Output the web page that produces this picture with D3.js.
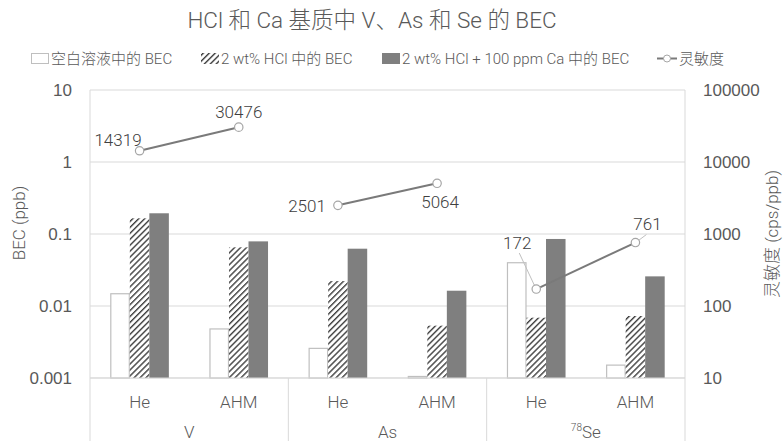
<!DOCTYPE html>
<html><head><meta charset="utf-8">
<script src="https://cdn.jsdelivr.net/npm/d3@7"></script>
<style>
body{margin:0;background:#fff;}
svg{display:block;font-family:Roboto,"Noto Sans CJK SC",sans-serif;font-weight:300;}
</style></head>
<body><svg id="c" width="783" height="441"></svg>
<script>
// ---- data ----
const groups = ["V", "As", "Se"];
const subs = ["He", "AHM"];
const seriesNames = ["空白溶液中的 BEC", "2 wt% HCl 中的 BEC", "2 wt% HCl + 100 ppm Ca 中的 BEC", "灵敏度"];
const blankBEC = [0.0148, 0.0048, 0.00258, 0.00105, 0.0399, 0.00151];
const hclBEC   = [0.165, 0.0653, 0.0222, 0.00533, 0.00688, 0.00726];
const caBEC    = [0.194, 0.079, 0.0625, 0.0163, 0.0853, 0.0258];
const sensitivity = [14319, 30476, 2501, 5064, 172, 761];
const leftTicks = [0.001, 0.01, 0.1, 1, 10];
const leftTickLabels = ["0.001", "0.01", "0.1", "1", "10"];
const rightTicks = [10, 100, 1000, 10000, 100000];
const rightTickLabels = ["10", "100", "1000", "10000", "100000"];

// label placement (style, not data)
const labelPos = [
  {a:"end", dx:2, dy:-11},
  {a:"middle", dx:0, dy:-15},
  {a:"end", dx:-12, dy:1},
  {a:"middle", dx:3, dy:19},
  {a:"middle", dx:-19, dy:-46, lead:true},
  {a:"middle", dx:12, dy:-18, lead:true}
];

const svg = d3.select("#c");
const L = 90, R = 685, T = 90, B = 378;
const txt = "#595959";
const grid = "#d9d9d9";

const x0 = d3.scaleBand().domain(groups).range([L, R]);
const x1 = d3.scaleBand().domain(subs).range([0, x0.bandwidth()]);
const xb = d3.scaleBand().domain([0,1,2]).range([0, x1.bandwidth()]).paddingInner(0).paddingOuter(1.04);
const y = d3.scaleLog().domain([0.001, 10]).range([B, T]);
const yR = d3.scaleLog().domain([10, 100000]).range([B, T]);

// pattern
const defs = svg.append("defs");
const pat = defs.append("pattern").attr("id","hatch").attr("patternUnits","userSpaceOnUse")
  .attr("width",4.2).attr("height",4.2).attr("patternTransform","rotate(45)");
pat.append("rect").attr("width",4.2).attr("height",4.2).attr("fill","#fff");
pat.append("rect").attr("x",0).attr("width",1.4).attr("height",4.2).attr("fill","#404040");

// title
svg.append("text").attr("x",372).attr("y",28).attr("text-anchor","middle")
  .attr("font-size",22.5).attr("fill",txt).text("HCl 和 Ca 基质中 V、As 和 Se 的 BEC");

// gridlines
svg.append("g").selectAll("line").data(leftTicks).join("line")
  .attr("x1",L).attr("x2",R).attr("y1",d=>y(d)).attr("y2",d=>y(d))
  .attr("stroke",grid).attr("stroke-width",1);

// left/right axis lines
svg.append("line").attr("x1",L).attr("x2",L).attr("y1",T).attr("y2",B).attr("stroke",grid);
svg.append("line").attr("x1",R).attr("x2",R).attr("y1",T).attr("y2",B).attr("stroke",grid);

// axes via d3
const yAxis = d3.axisLeft(y).tickValues(leftTicks).tickFormat((d,i)=>leftTickLabels[i]).tickSize(0).tickPadding(18);
const ga = svg.append("g").attr("transform",`translate(${L},0)`).call(yAxis);
ga.select(".domain").remove();
ga.selectAll("text").attr("font-size",17).attr("fill",txt).attr("font-family",null);

const yAxisR = d3.axisRight(yR).tickValues(rightTicks).tickFormat((d,i)=>rightTickLabels[i]).tickSize(0).tickPadding(18);
const gr = svg.append("g").attr("transform",`translate(${R},0)`).call(yAxisR);
gr.select(".domain").remove();
gr.selectAll("text").attr("font-size",17).attr("fill",txt).attr("font-family",null);

// bars
const rows = [];
groups.forEach((g,gi)=>subs.forEach((s,si)=>rows.push({g,s,i:gi*2+si})));
const series = [
  {vals:blankBEC, fill:"#fff", stroke:"#bfbfbf"},
  {vals:hclBEC, fill:"url(#hatch)", stroke:"none"},
  {vals:caBEC, fill:"#7f7f7f", stroke:"none"}
];
const gb = svg.append("g");
series.forEach((se,k)=>{
  gb.selectAll(null).data(rows).join("rect")
    .attr("x",d=>x0(d.g)+x1(d.s)+xb(k) + (se.stroke!=="none"?0.5:0))
    .attr("width",xb.bandwidth() - (se.stroke!=="none"?1:0))
    .attr("y",d=>y(se.vals[d.i]))
    .attr("height",d=>B - y(se.vals[d.i]))
    .attr("fill",se.fill).attr("stroke",se.stroke).attr("stroke-width",1.2);
});

// bottom axis line
svg.append("line").attr("x1",L).attr("x2",R).attr("y1",B).attr("y2",B).attr("stroke",grid);

// category separators
const seps = groups.map(g=>x0(g)).concat([R]);
svg.append("g").selectAll("line").data(seps).join("line")
  .attr("x1",d=>d).attr("x2",d=>d).attr("y1",B).attr("y2",441).attr("stroke",grid);

// sub labels
svg.append("g").selectAll("text").data(rows).join("text")
  .attr("x",d=>x0(d.g)+x1(d.s)+x1.bandwidth()/2).attr("y",408)
  .attr("text-anchor","middle").attr("font-size",17).attr("fill",txt).text(d=>d.s);

// group labels
const gl = svg.append("g").selectAll("text").data(groups).join("text")
  .attr("x",d=>x0(d)+x0.bandwidth()/2).attr("y",438)
  .attr("text-anchor","middle").attr("font-size",17).attr("fill",txt);
gl.each(function(d){
  const t = d3.select(this);
  if(d==="Se"){
    t.append("tspan").attr("font-size",10).attr("dy",-7).text("78");
    t.append("tspan").attr("dy",7).text("Se");
  } else t.text(d);
});

// sensitivity lines
const cx = d=>x0(d.g)+x1(d.s)+x1.bandwidth()/2;
const line = d3.line().x(d=>cx(d)).y(d=>yR(sensitivity[d.i]));
groups.forEach(g=>{
  svg.append("path").datum(rows.filter(r=>r.g===g)).attr("d",line)
    .attr("fill","none").attr("stroke","#7a7a7a").attr("stroke-width",2);
});
// leader lines
rows.forEach(d=>{
  const p = labelPos[d.i];
  if(p.lead){
    const mx = cx(d), my = yR(sensitivity[d.i]);
    const lx = mx + p.dx, ly = my + p.dy;
    const sx = p.dx<0 ? lx+2 : lx-1;
    const sy = ly + 10;
    svg.append("line").attr("x1",sx).attr("y1",sy).attr("x2",mx + (p.dx<0?-2:3)).attr("y2",my + (p.dx<0?-4:-2))
      .attr("stroke","#bfbfbf").attr("stroke-width",1);
  }
});
svg.append("g").selectAll("circle").data(rows).join("circle")
  .attr("cx",cx).attr("cy",d=>yR(sensitivity[d.i])).attr("r",4.2)
  .attr("fill","#fff").attr("stroke","#a6a6a6").attr("stroke-width",1.2);
svg.append("g").selectAll("text").data(rows).join("text")
  .attr("x",d=>cx(d)+labelPos[d.i].dx).attr("y",d=>yR(sensitivity[d.i])+labelPos[d.i].dy)
  .attr("dy","0.35em").attr("text-anchor",d=>labelPos[d.i].a)
  .attr("font-size",17).attr("fill","#404040").text(d=>sensitivity[d.i]);

// axis titles
svg.append("text").attr("transform","translate(25,223) rotate(-90)").attr("text-anchor","middle")
  .attr("font-size",17).attr("fill",txt).text("BEC (ppb)");
svg.append("text").attr("transform","translate(778,234) rotate(-90)").attr("text-anchor","middle")
  .attr("font-size",17).attr("fill",txt).text("灵敏度 (cps/ppb)");

// legend
const lg = svg.append("g").attr("font-size",15).attr("fill",txt);
const lx = [31, 201, 382, 657];
lg.append("rect").attr("x",lx[0]+0.5).attr("y",53.5).attr("width",17).attr("height",10).attr("fill","#fff").attr("stroke","#bfbfbf");
lg.append("rect").attr("x",lx[1]).attr("y",53).attr("width",18).attr("height",11).attr("fill","url(#hatch)");
lg.append("rect").attr("x",lx[2]).attr("y",53).attr("width",18).attr("height",11).attr("fill","#7f7f7f");
lg.append("line").attr("x1",lx[3]).attr("x2",lx[3]+20).attr("y1",58.5).attr("y2",58.5).attr("stroke","#7a7a7a").attr("stroke-width",2);
lg.append("circle").attr("cx",lx[3]+10).attr("cy",58.5).attr("r",3.5).attr("fill","#fff").attr("stroke","#a6a6a6");
seriesNames.forEach((n,i)=>{
  lg.append("text").attr("x",lx[i]+ (i===3?22:20)).attr("y",58.5).attr("dy","0.35em").text(n);
});
</script></body></html>
